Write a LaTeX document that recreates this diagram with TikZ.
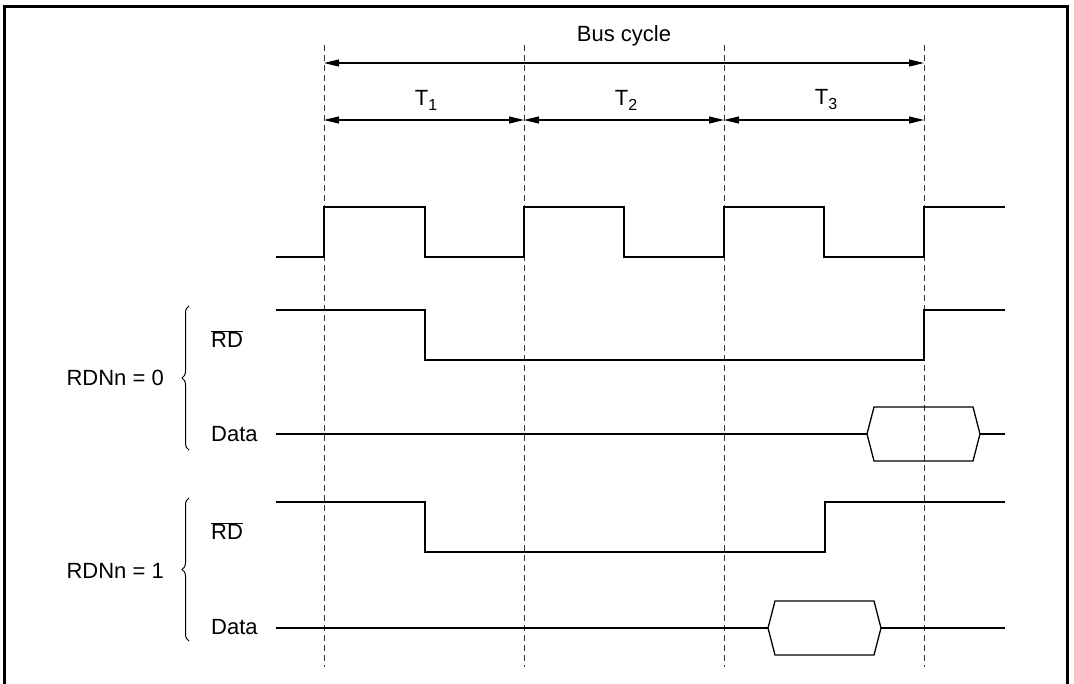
\documentclass[tikz,border=0pt]{standalone}
\usepackage{fontspec}
\setmainfont{Liberation Sans}
\usetikzlibrary{arrows.meta,decorations.pathreplacing}
\newcommand{\tsub}[1]{T\raisebox{-5pt}{\fontsize{16}{16}\selectfont #1}}
\begin{document}
\begin{tikzpicture}[x=1pt,y=-1pt,
  every node/.style={font=\fontsize{22}{26}\selectfont, inner sep=0pt},
  wave/.style={line width=1.3pt, line join=miter},
  guide/.style={line width=1pt, dash pattern=on 6pt off 4pt, black!80},
  dim/.style={line width=1.2pt, {Triangle[length=15pt,width=7pt]}-{Triangle[length=15pt,width=7pt]}},
  bracestyle/.style={line width=1pt, decorate, decoration={brace, amplitude=7pt}},
  frame/.style={line width=3pt}]
\useasboundingbox (0,0) rectangle (1074,683);
\draw[frame] (4,690) -- (4,6) -- (1067,6) -- (1067,690);
% guide lines
\foreach \x/\n in {324/a,524/b,724/c,924/d}{
  \coordinate (top\n) at (\x,45);
  \coordinate (bot\n) at (\x,667);
  \draw[guide] (top\n) -- (bot\n);
  \coordinate (bus\n) at (\x,63);
  \coordinate (t\n) at (\x,120);
}
% dimension arrows
\draw[dim] (busa) -- (busd);
\draw[dim] (ta) -- (tb);
\draw[dim] (tb) -- (tc);
\draw[dim] (tc) -- (td);
\node (buscycle) at (624,36) {Bus cycle};
\node (T1) at (426,100) {\tsub{1}};
\node (T2) at (626,100) {\tsub{2}};
\node (T3) at (826,100) {\tsub{3}};
% clock
\draw[wave] (276,257) -- (324,257) -- (324,207) -- (425,207) -- (425,257) -- (524,257) -- (524,207) -- (624,207) -- (624,257) -- (724,257) -- (724,207) -- (824,207) -- (824,257) -- (924,257) -- (924,207) -- (1005,207);
% RDNn = 0
\draw[wave] (276,310) -- (425,310) -- (425,360) -- (924,360) -- (924,310) -- (1005,310);
\draw[wave] (276,434) -- (867,434);
\draw[wave] (867,434) -- (874,407) -- (973,407) -- (980,434) -- (973,461) -- (874,461) -- cycle;
\draw[wave] (980,434) -- (1005,434);
% RDNn = 1
\draw[wave] (276,502) -- (425,502) -- (425,552) -- (825,552) -- (825,502) -- (1005,502);
\draw[wave] (276,628) -- (768,628);
\draw[wave] (768,628) -- (775,601) -- (874,601) -- (881,628) -- (874,655) -- (775,655) -- cycle;
\draw[wave] (881,628) -- (1005,628);
% labels
\node[anchor=west] (rd0) at (211,339) {$\overline{\hbox{RD}}$};
\node[anchor=west] (data0) at (211,434) {Data};
\node[anchor=west] (rd1) at (211,531) {$\overline{\hbox{RD}}$};
\node[anchor=west] (data1) at (211,627) {Data};
\node[anchor=east] (rdn0) at (164,378) {RDNn = 0};
\node[anchor=east] (rdn1) at (164,571) {RDNn = 1};
\draw[bracestyle] (189,450) -- (189,306);
\draw[bracestyle] (189,641) -- (189,498);
\end{tikzpicture}
\end{document}
